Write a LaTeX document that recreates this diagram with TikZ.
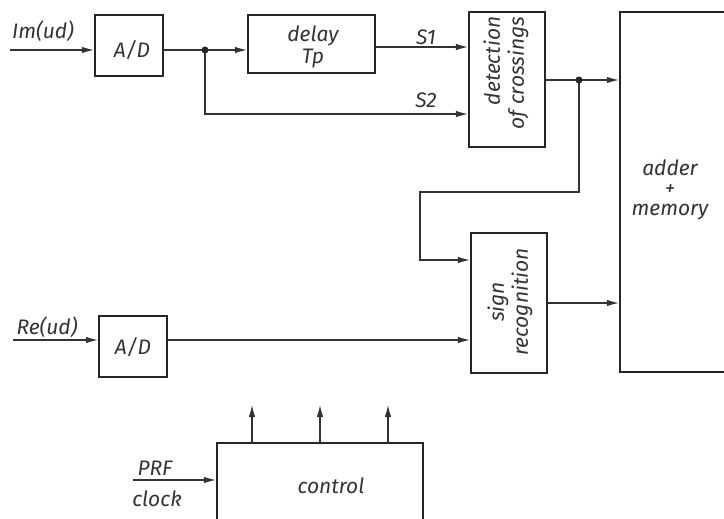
\documentclass[tikz,border=0pt]{standalone}
\usepackage{fontspec}
\setmainfont{Fira Sans}
\usetikzlibrary{arrows.meta}
\begin{document}
\begin{tikzpicture}[x=1pt,y=-1pt,
  every node/.style={font=\fontsize{21}{24}\selectfont\itshape, text=black!80},
  blk/.style={draw=black!85, line width=2.2pt, inner sep=0pt},
  conn/.style={draw=black!80, line width=1.2pt},
  arr/.style={conn, -{Latex[length=12pt,width=6.5pt]}},
  jdot/.style={circle, fill=black!85, inner sep=0pt, minimum size=7pt},
  lbl/.style={inner sep=0pt}]
\useasboundingbox (0,0) rectangle (724,519);
\clip (0,0) rectangle (724,519);
% blocks
\node[blk, minimum width=68pt, minimum height=61pt] (ad1) at (129,45.5) {};
\node[lbl] (ad1t) at (132,50) {A/D};
\node[blk, minimum width=127pt, minimum height=58pt] (delay) at (311.5,44) {};
\node[lbl, align=center] (delayt) at (313,47) {delay\\[-2pt]Tp};
\node[blk, minimum width=76pt, minimum height=135pt] (det) at (507,79.5) {};
\node[lbl, rotate=90, align=right] (dett) at (506,73) {detection\\of crossings};
\node[blk, minimum width=110pt, minimum height=360pt] (adder) at (675,192) {};
\node[lbl, align=center] (addert) at (670,190) {adder\\[-4pt]+\\[-4pt]memory};
\node[blk, minimum width=76pt, minimum height=140pt] (sign) at (509,303) {};
\node[lbl, rotate=90, align=center] (signt) at (510,302) {sign\\recognition};
\node[blk, minimum width=68pt, minimum height=61pt] (ad2) at (133,346.5) {};
\node[lbl] (ad2t) at (133,347) {A/D};
\node[blk, minimum width=206pt, minimum height=100pt] (ctrl) at (320,493) {};
\node[lbl] (ctrlt) at (331,486) {control};
% labels
\node[lbl] (imlbl) at (43,31) {Im(ud)};
\node[lbl] (relbl) at (47,327) {Re(ud)};
\node[lbl] (s1lbl) at (426,37) {S1};
\node[lbl] (s2lbl) at (426,100) {S2};
\node[lbl] (prflbl) at (155,468) {PRF};
\node[lbl] (clklbl) at (157,499) {clock};
% coordinates
\coordinate (imin) at (10,50);
\coordinate (j1) at (205,50);
\coordinate (s1) at (0,47);
\coordinate (s2c) at (205,114);
\coordinate (j2) at (579,80);
\coordinate (k1) at (579,192);
\coordinate (k2) at (420,192);
\coordinate (k3) at (420,260);
\coordinate (so) at (0,303);
\coordinate (rein) at (13,340);
\coordinate (prfin) at (133,480);
\coordinate (u1) at (252,405);
\coordinate (u2) at (320,405);
\coordinate (u3) at (388,405);
% connectors
\draw[arr] (imin) -- (imin -| ad1.west);
\draw[conn] (j1 -| ad1.east) -- (j1);
\draw[arr] (j1) -- (j1 -| delay.west);
\draw[arr] (delay.east |- s1) -- (det.west |- s1);
\draw[arr] (j1) -- (s2c) -- (s2c -| det.west);
\draw[conn] (det.east |- j2) -- (j2);
\draw[arr] (j2) -- (j2 -| adder.west);
\draw[arr] (j2) -- (k1) -- (k2) -- (k3) -- (k3 -| sign.west);
\draw[arr] (sign.east |- so) -- (adder.west |- so);
\draw[arr] (rein) -- (rein -| ad2.west);
\draw[arr] (ad2.east |- rein) -- (sign.west |- rein);
\draw[arr] (prfin) -- (prfin -| ctrl.west);
\draw[arr] (ctrl.north -| u1) -- (u1);
\draw[arr] (ctrl.north -| u2) -- (u2);
\draw[arr] (ctrl.north -| u3) -- (u3);
\node[jdot] (d1) at (j1) {};
\node[jdot] (d2) at (j2) {};
\end{tikzpicture}
\end{document}
